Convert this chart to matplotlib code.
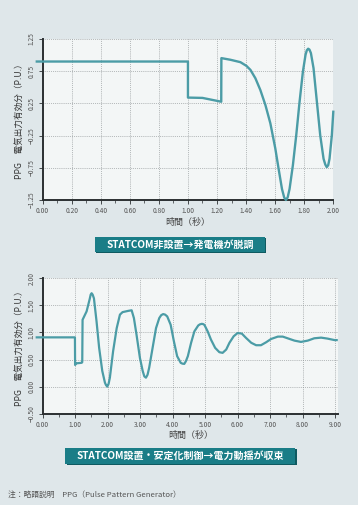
import matplotlib
matplotlib.use("Agg")
import matplotlib.pyplot as plt
from matplotlib.patches import Rectangle

plt.rcParams['font.family'] = ['Noto Sans CJK JP', 'DejaVu Sans']
plt.rcParams['axes.unicode_minus'] = True

# ---- data ----
# top chart: no STATCOM, generator loses synchronism
t1 = [-0.04, 1.0, 1.0, 1.10, 1.229, 1.23, 1.293, 1.361, 1.402, 1.43, 1.464,
      1.498, 1.533, 1.567, 1.601, 1.624, 1.647, 1.662, 1.674, 1.686, 1.699,
      1.722, 1.745, 1.768, 1.791, 1.809, 1.818, 1.827, 1.836, 1.846, 1.864,
      1.887, 1.91, 1.933, 1.945, 1.955, 1.965, 1.974, 1.99, 2.0]
p1 = [0.90, 0.90, 0.34, 0.335, 0.276, 0.953, 0.927, 0.89, 0.833, 0.77, 0.64,
      0.458, 0.224, -0.06, -0.45, -0.77, -1.08, -1.21, -1.25, -1.21, -1.08,
      -0.71, -0.245, 0.276, 0.745, 1.005, 1.075, 1.099, 1.085, 1.03, 0.797,
      0.276, -0.245, -0.61, -0.70, -0.74, -0.71, -0.61, -0.245, 0.12]

# bottom chart: STATCOM with stabilising control, oscillation damps out
t2 = [-0.18, 0.995, 1.0, 1.03, 1.2, 1.22, 1.23, 1.354, 1.45, 1.48, 1.508,
      1.54, 1.58, 1.66, 1.74, 1.836, 1.918, 1.95, 1.99, 2.03, 2.07, 2.17,
      2.28, 2.38, 2.46, 2.64, 2.74, 2.81, 2.89, 2.995, 3.08, 3.13, 3.18,
      3.23, 3.28, 3.385, 3.49, 3.59, 3.65, 3.71, 3.77, 3.835, 3.94, 4.04,
      4.14, 4.25, 4.30, 4.36, 4.41, 4.47, 4.57, 4.67, 4.79, 4.84, 4.9, 4.94,
      4.98, 5.08, 5.18, 5.31, 5.44, 5.54, 5.65, 5.75, 5.88, 6.0, 6.13, 6.26,
      6.42, 6.57, 6.72, 6.88, 7.03, 7.24, 7.39, 7.54, 7.75, 7.95, 8.16, 8.36,
      8.57, 8.77, 8.98, 9.05]
p2 = [0.91, 0.91, 0.40, 0.43, 0.44, 0.45, 1.235, 1.39, 1.62, 1.70, 1.725,
      1.70, 1.63, 1.205, 0.716, 0.29, 0.074, 0.03, 0.0, 0.05, 0.165, 0.655,
      1.08, 1.33, 1.376, 1.40, 1.41, 1.266, 0.96, 0.53, 0.29, 0.19, 0.165,
      0.22, 0.35, 0.716, 1.08, 1.266, 1.32, 1.34, 1.33, 1.297, 1.144, 0.838,
      0.563, 0.44, 0.425, 0.42, 0.47, 0.563, 0.81, 1.02, 1.13, 1.15, 1.16,
      1.155, 1.14, 1.02, 0.87, 0.716, 0.636, 0.624, 0.685, 0.81, 0.93, 0.99,
      0.98, 0.90, 0.81, 0.765, 0.765, 0.82, 0.88, 0.924, 0.924, 0.893, 0.85,
      0.826, 0.85, 0.893, 0.905, 0.887, 0.86, 0.86]

xt1 = [0.0, 0.2, 0.4, 0.6, 0.8, 1.0, 1.2, 1.4, 1.6, 1.8, 2.0]
yt1 = [-1.25, -0.75, -0.25, 0.25, 0.75, 1.25]
xt2 = [0, 1, 2, 3, 4, 5, 6, 7, 8, 9]
yt2 = [-0.5, 0.0, 0.5, 1.0, 1.5, 2.0]

title1 = "STATCOM非設置→発電機が脱調"
title2 = "STATCOM設置・安定化制御→電力動揺が収束"
xlab = "時間（秒）"
ylab = "PPG　電気出力有効分（P.U.）"
note = "注：略語説明　PPG（Pulse Pattern Generator）"

BG = "#dfe7ea"
FACE = "#f3f6f6"
LINE = "#4b9ca6"
BOX = "#1a7d87"
DARK = "#2b2f31"

fig = plt.figure(figsize=(3.58, 5.05), dpi=100)
fig.patch.set_facecolor(BG)

ax1 = fig.add_axes([0.119, 0.604, 0.812, 0.3188])
ax2 = fig.add_axes([0.119, 0.1808, 0.826, 0.268])


def style(ax, xt, yt, xlim, ylim, minor):
    ax.set_facecolor(FACE)
    ax.set_xlim(*xlim)
    ax.set_ylim(*ylim)
    ax.set_xticks(xt)
    ax.set_xticks(minor, minor=True)
    ax.set_yticks(yt)
    ax.set_xticklabels([f"{v:.2f}" for v in xt], fontsize=4.8, color="#555")
    ax.set_yticklabels([f"{v:.2f}".replace("-", "\u2212") for v in yt],
                       fontsize=4.8, color="#555", rotation=90, va="center")
    for s in ["top", "right"]:
        ax.spines[s].set_visible(False)
    for s in ["left", "bottom"]:
        ax.spines[s].set_linewidth(1.4)
        ax.spines[s].set_color(DARK)
    ax.tick_params(axis="both", which="major", length=3, width=0.6,
                   color=DARK, pad=2)
    ax.tick_params(axis="x", which="minor", length=2, width=0.5, color=DARK)
    ax.grid(True, which="major", linestyle=(0, (1, 1.5)), color="#8f9496",
            linewidth=0.55)
    ax.set_axisbelow(True)
    ax.set_xlabel(xlab, fontsize=6.5, color="#444", labelpad=2)
    ax.set_ylabel(ylab, fontsize=6.2, color="#333", labelpad=3)


style(ax1, xt1, yt1, (0, 2.0), (-1.25, 1.25),
      [0.1, 0.3, 0.5, 0.7, 0.9, 1.1, 1.3, 1.5, 1.7, 1.9])
style(ax2, xt2, yt2, (0, 9.1), (-0.5, 2.0),
      [0.5, 1.5, 2.5, 3.5, 4.5, 5.5, 6.5, 7.5, 8.5])

ax1.plot(t1, p1, color=LINE, linewidth=1.7, clip_on=False, zorder=3,
         solid_joinstyle="round")
ax2.plot(t2, p2, color=LINE, linewidth=1.6, clip_on=False, zorder=3,
         solid_joinstyle="round")


def title_box(x0, y0, w, h, text):
    dx, dy = 1.5 / 358, 1.5 / 505
    fig.add_artist(Rectangle((x0 + dx, y0 - dy), w, h, transform=fig.transFigure,
                             facecolor="#0f5a61", edgecolor="none"))
    fig.add_artist(Rectangle((x0, y0), w, h, transform=fig.transFigure,
                             facecolor=BOX, edgecolor="none"))
    fig.text(x0 + w / 2, y0 + h / 2, text, ha="center", va="center",
             color="white", fontsize=7.2, fontweight="bold")


title_box(0.265, 0.501, 0.475, 0.0297, title1)
title_box(0.1816, 0.0812, 0.6425, 0.0317, title2)

fig.text(0.022, 0.0198, note, fontsize=5.6, color="#555", va="center")

fig.savefig("out.png", dpi=100, facecolor=BG)
